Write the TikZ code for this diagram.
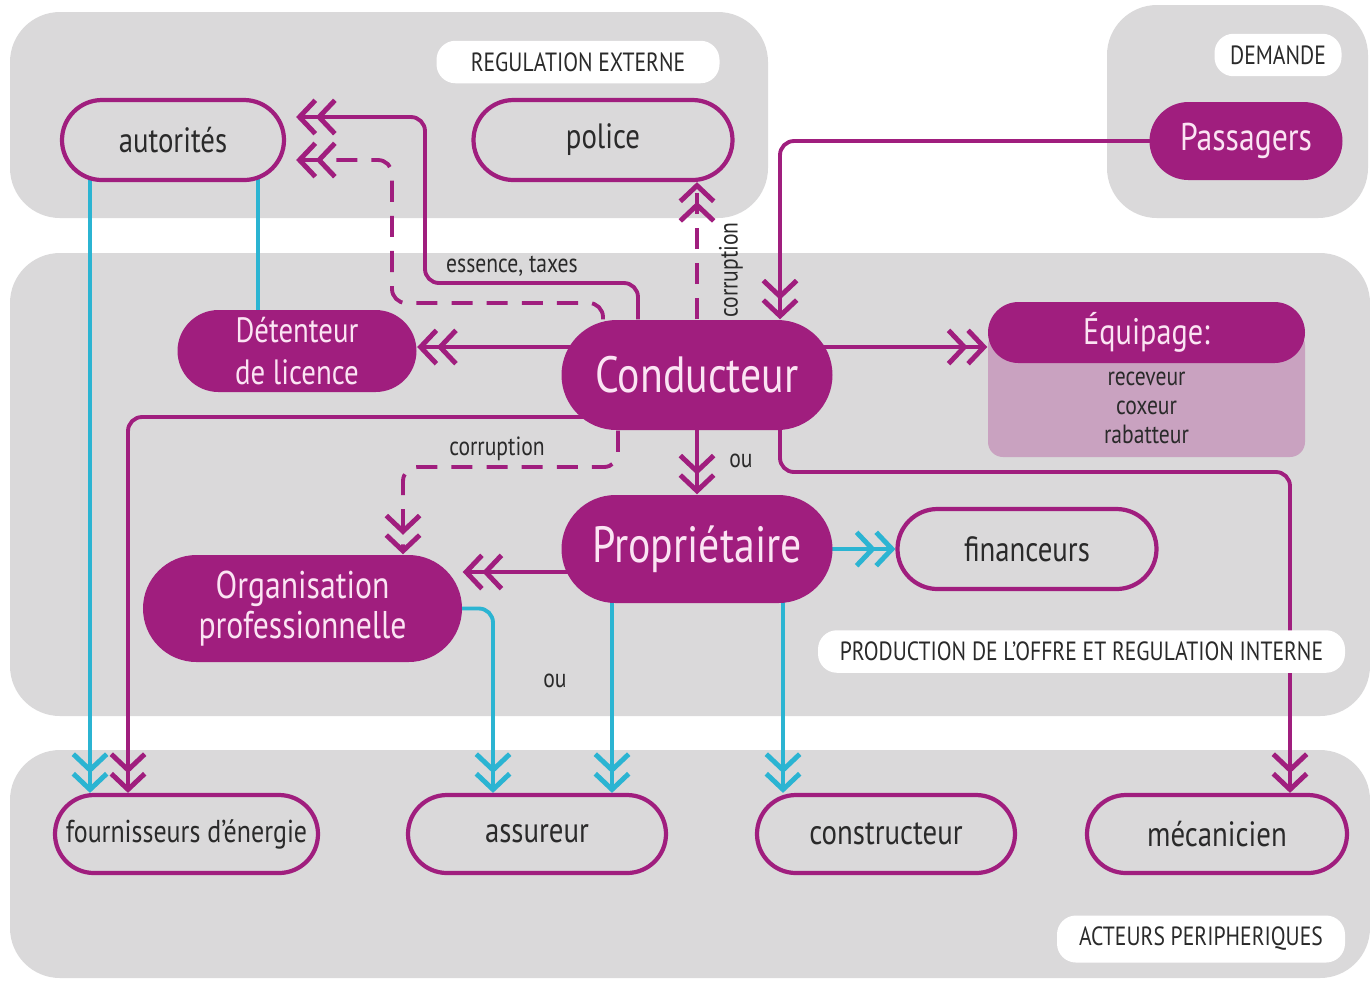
\documentclass[tikz,border=0pt]{standalone}
\usepackage{fontspec}
\setmainfont{PT Sans}[FakeStretch=0.82]
\usepackage{tikz}
\usetikzlibrary{arrows.meta}
\definecolor{mag}{HTML}{A01E7E}
\definecolor{cyanl}{HTML}{2BB4D2}
\definecolor{panelgray}{HTML}{DAD9DA}
\definecolor{lightmag}{HTML}{C9A2C0}
\definecolor{ink}{HTML}{2A2A2A}
\definecolor{pinkink}{HTML}{FBE4F3}
\tikzset{
    panel/.style={fill=panelgray, rounded corners=0.5cm},
    tag/.style={fill=white, rounded corners=0.19cm, text=ink, inner xsep=0pt,
    	minimum height=0.38cm, font=\fontsize{7.5}{9}\selectfont}
}
\tikzset{
    hollow/.style={draw=mag, line width=1.2pt, fill=panelgray, inner sep=0pt,
    	rounded corners=0.39cm, minimum height=0.78cm, text=ink,
    	font=\fontsize{10}{12}\selectfont},
    plein/.style={fill=mag, text=pinkink, align=center, inner sep=0pt},
    smalltxt/.style={text=ink, font=\fontsize{7.5}{9}\selectfont}
}
\tikzset{
    link/.style={draw=mag, line width=1.1pt, rounded corners=4pt},
    clink/.style={draw=cyanl, line width=1.1pt, rounded corners=4pt},
    dashy/.style={dash pattern=on 6pt off 4pt},
    dchev/.style={-{Straight Barb[length=4.5pt,width=9.5pt,line width=1.4pt,sep=-0.6pt]
    	Straight Barb[length=4.5pt,width=9.5pt,line width=1.4pt]}}
}
\pgfdeclarelayer{background}
\pgfdeclarelayer{lines}
\pgfsetlayers{background,lines,main}

\begin{document}
\begin{tikzpicture}
	\useasboundingbox (0,0) rectangle (13.7,-9.8);
	\begin{pgfonlayer}{background}
	\fill[panel] (0.10,-0.12) rectangle (7.68,-2.18);
	\fill[panel] (11.07,-0.05) rectangle (13.68,-2.18);
	\fill[panel] (0.10,-2.53) rectangle (13.70,-7.16);
	\fill[panel] (0.10,-7.50) rectangle (13.70,-9.78);
	\end{pgfonlayer}
	\node[tag, minimum width=2.83cm] (regext) at (5.78,-0.62) {REGULATION EXTERNE};
	\node[tag, minimum width=1.27cm] (demtag) at (12.78,-0.55) {DEMANDE};
	\node[tag, minimum width=5.27cm] (prodtag) at (10.815,-6.515) {PRODUCTION DE L'OFFRE ET REGULATION INTERNE};
	\node[tag, minimum width=2.88cm] (acttag) at (12.01,-9.39) {ACTEURS PERIPHERIQUES};
	\node[hollow, minimum width=2.22cm, minimum height=0.80cm, rounded corners=0.40cm] (aut) at (1.73,-1.40) {autorités};
	\node[hollow, minimum width=2.59cm, minimum height=0.80cm, rounded corners=0.40cm] (pol) at (6.03,-1.40) {police};
	\node[plein, minimum width=1.93cm, minimum height=0.78cm, rounded corners=0.39cm,
		font=\fontsize{11}{13}\selectfont] (pass) at (12.46,-1.41) {Passagers};
	\node[plein, minimum width=2.39cm, minimum height=0.82cm, rounded corners=0.41cm,
		font=\fontsize{10}{12}\selectfont] (det) at (2.97,-3.51) {Détenteur\\de licence};
	\node[plein, minimum width=2.71cm, minimum height=1.10cm, rounded corners=0.55cm,
		font=\fontsize{14.5}{16}\selectfont] (cond) at (6.97,-3.75) {Conducteur};
	\fill[lightmag, rounded corners=0.15cm] (9.88,-3.30) rectangle (13.05,-4.57);
	\node[plein, minimum width=3.17cm, minimum height=0.61cm, rounded corners=0.305cm,
		font=\fontsize{10.5}{12}\selectfont] (equip) at (11.465,-3.325) {Équipage:};
	\node[smalltxt, align=center, font=\fontsize{7.5}{8.3}\selectfont] (equipliste) at (11.465,-4.08) {receveur\\coxeur\\rabatteur};
	\node[plein, minimum width=2.71cm, minimum height=1.08cm, rounded corners=0.54cm,
		font=\fontsize{14.5}{16}\selectfont] (prop) at (6.97,-5.49) {Propriétaire};
	\node[hollow, minimum width=2.59cm, minimum height=0.80cm, rounded corners=0.40cm] (fin) at (10.27,-5.49) {financeurs};
	\node[plein, minimum width=3.19cm, minimum height=1.07cm, rounded corners=0.535cm,
		font=\fontsize{11}{11.4}\selectfont] (org) at (3.025,-6.085) {Organisation\\professionnelle};
	\node[hollow, minimum width=2.63cm, font=\fontsize{9}{11}\selectfont] (four) at (1.865,-8.34) {fournisseurs d'énergie};
	\node[hollow, minimum width=2.58cm] (ass) at (5.37,-8.34) {assureur};
	\node[hollow, minimum width=2.58cm] (cons) at (8.86,-8.34) {constructeur};
	\node[hollow, minimum width=2.60cm] (meca) at (12.17,-8.34) {mécanicien};
	\node[smalltxt] (esstax) at (5.12,-2.66) {essence, taxes};
	\node[smalltxt, rotate=90] (corrpol) at (7.31,-2.70) {corruption};
	\node[smalltxt] (corrorg) at (4.97,-4.49) {corruption};
	\node[smalltxt] (ou1) at (7.41,-4.61) {ou};
	\node[smalltxt] (ou2) at (5.55,-6.81) {ou};
	\begin{pgfonlayer}{lines}
	\draw[link,dchev] ([xshift=-5.9mm]cond.north) |- (4.25,-2.83) |- ([xshift=1mm,yshift=2.3mm]aut.east);
	\draw[link,dashy,dchev] ([xshift=-9.4mm]cond.north) |- (3.92,-3.03) |- ([xshift=1mm,yshift=-2mm]aut.east);
	\draw[link,dashy,dchev] (cond.north) -- (cond.north |- pol.south);
	\draw[link,dchev] (pass.center) -| ([xshift=8.3mm]cond.north);
	\draw[link,dchev] ([yshift=2.8mm]cond.center) -- ([yshift=0.4mm]det.east);
	\draw[link,dchev] ([yshift=2.8mm]cond.center) -- ([yshift=-1.45mm]equip.west);
	\draw[link,dchev] (cond.center) -- (prop.north);
	\draw[link,dchev] ([xshift=8.3mm]cond.center) |- (12.90,-4.72) -- ([xshift=7.3mm]meca.north);
	\draw[link,dchev] ([yshift=-4.2mm]cond.center) -| ([xshift=-5.85mm]four.north);
	\draw[link,dashy,dchev] ([xshift=-7.9mm]cond.south) |- (4.03,-4.67) -- ([xshift=10.05mm]org.north);
	\draw[link,dchev] ([yshift=-2.3mm]prop.center) -- ([yshift=3.65mm]org.east);
	\draw[clink,dchev] (prop.center) -- (fin.west);
	\draw[clink,dchev] (org.center) -| ([xshift=-4.4mm]ass.north);
	\draw[clink,dchev] ([xshift=-8.5mm]prop.center) -- ([xshift=7.5mm]ass.north);
	\draw[clink,dchev] ([xshift=8.6mm]prop.center) -- ([xshift=-10.3mm]cons.north);
	\draw[clink,dchev] ([xshift=-8.3mm]aut.center) -- ([xshift=-9.65mm]four.north);
	\draw[clink] ([xshift=8.5mm]aut.center) -- ([xshift=-3.9mm]det.center);
	\end{pgfonlayer}
\end{tikzpicture}
\end{document}
